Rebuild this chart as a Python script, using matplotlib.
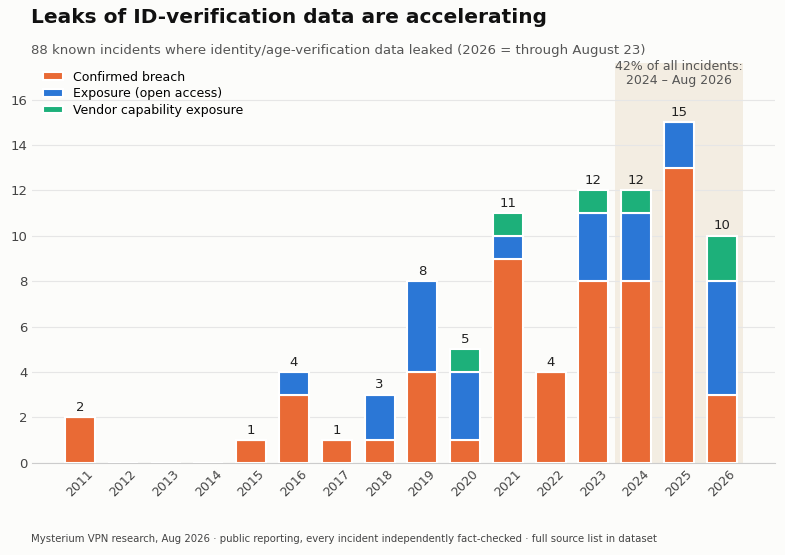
import matplotlib.pyplot as plt
import numpy as np

years = [str(y) for y in range(2011, 2027)]
breach = [2, 0, 0, 0, 1, 3, 1, 1, 4, 1, 9, 4, 8, 8, 13, 3]
exposure = [0, 0, 0, 0, 0, 1, 0, 2, 4, 3, 1, 0, 3, 3, 2, 5]
vendor = [0, 0, 0, 0, 0, 0, 0, 0, 0, 1, 1, 0, 1, 1, 0, 2]

c_breach = '#E96A35'
c_exp = '#2B77D6'
c_vendor = '#1DB07A'
bg = '#FCFCFA'

fig = plt.figure(figsize=(7.85, 5.55), dpi=100, facecolor=bg)
ax = fig.add_axes([0.041, 0.166, 0.946, 0.72], facecolor=bg)

x = np.arange(len(years))
b = np.array(breach)
e = np.array(exposure)
v = np.array(vendor)
ax.axvspan(12.5, 15.5, color='#F3EDE2', zorder=0, lw=0)
w = 0.7
ax.bar(x, b, w, color=c_breach, edgecolor='white', linewidth=1.5, label='Confirmed breach', zorder=3)
ax.bar(x, e, w, bottom=b, color=c_exp, edgecolor='white', linewidth=1.5, label='Exposure (open access)', zorder=3)
ax.bar(x, v, w, bottom=b + e, color=c_vendor, edgecolor='white', linewidth=1.5, label='Vendor capability exposure', zorder=3)

tot = b + e + v
for i, t in enumerate(tot):
    if t > 0:
        ax.text(i, t + 0.15, str(t), ha='center', va='bottom', fontsize=9.5, color='#222222', zorder=4)

ax.text(14, 17.15, '42% of all incidents:\n2024 – Aug 2026', ha='center', va='center',
        fontsize=9, color='#555555', linespacing=1.05)

ax.set_xlim(-1.12, 16.24)
ax.set_ylim(0, 17.6)
ax.set_yticks(range(0, 17, 2))
ax.set_xticks(x)
ax.set_xticklabels(years, rotation=45, ha='center', fontsize=9, color='#444444')
ax.tick_params(axis='y', labelsize=9.5, colors='#444444', length=0)
ax.tick_params(axis='x', length=0)
ax.grid(axis='y', color='#E6E6E6', lw=0.8, zorder=0)
for s in ['top', 'right', 'left']:
    ax.spines[s].set_visible(False)
ax.spines['bottom'].set_color('#CCCCCC')

ax.legend(loc='upper left', bbox_to_anchor=(0.0, 1.01), frameon=False, fontsize=9,
          handlelength=1.6, handleheight=0.55, labelspacing=0.3)

fig.text(0.039, 0.985, 'Leaks of ID-verification data are accelerating', fontsize=14.5,
         fontweight='bold', color='#111111', va='top')
fig.text(0.039, 0.92, '88 known incidents where identity/age-verification data leaked (2026 = through August 23)',
         fontsize=9.5, color='#555555', va='top')
fig.text(0.039, 0.02, 'Mysterium VPN research, Aug 2026 · public reporting, every incident independently fact-checked · full source list in dataset',
         fontsize=7.3, color='#444444', va='bottom')

fig.savefig('out.png', dpi=100, facecolor=bg)
